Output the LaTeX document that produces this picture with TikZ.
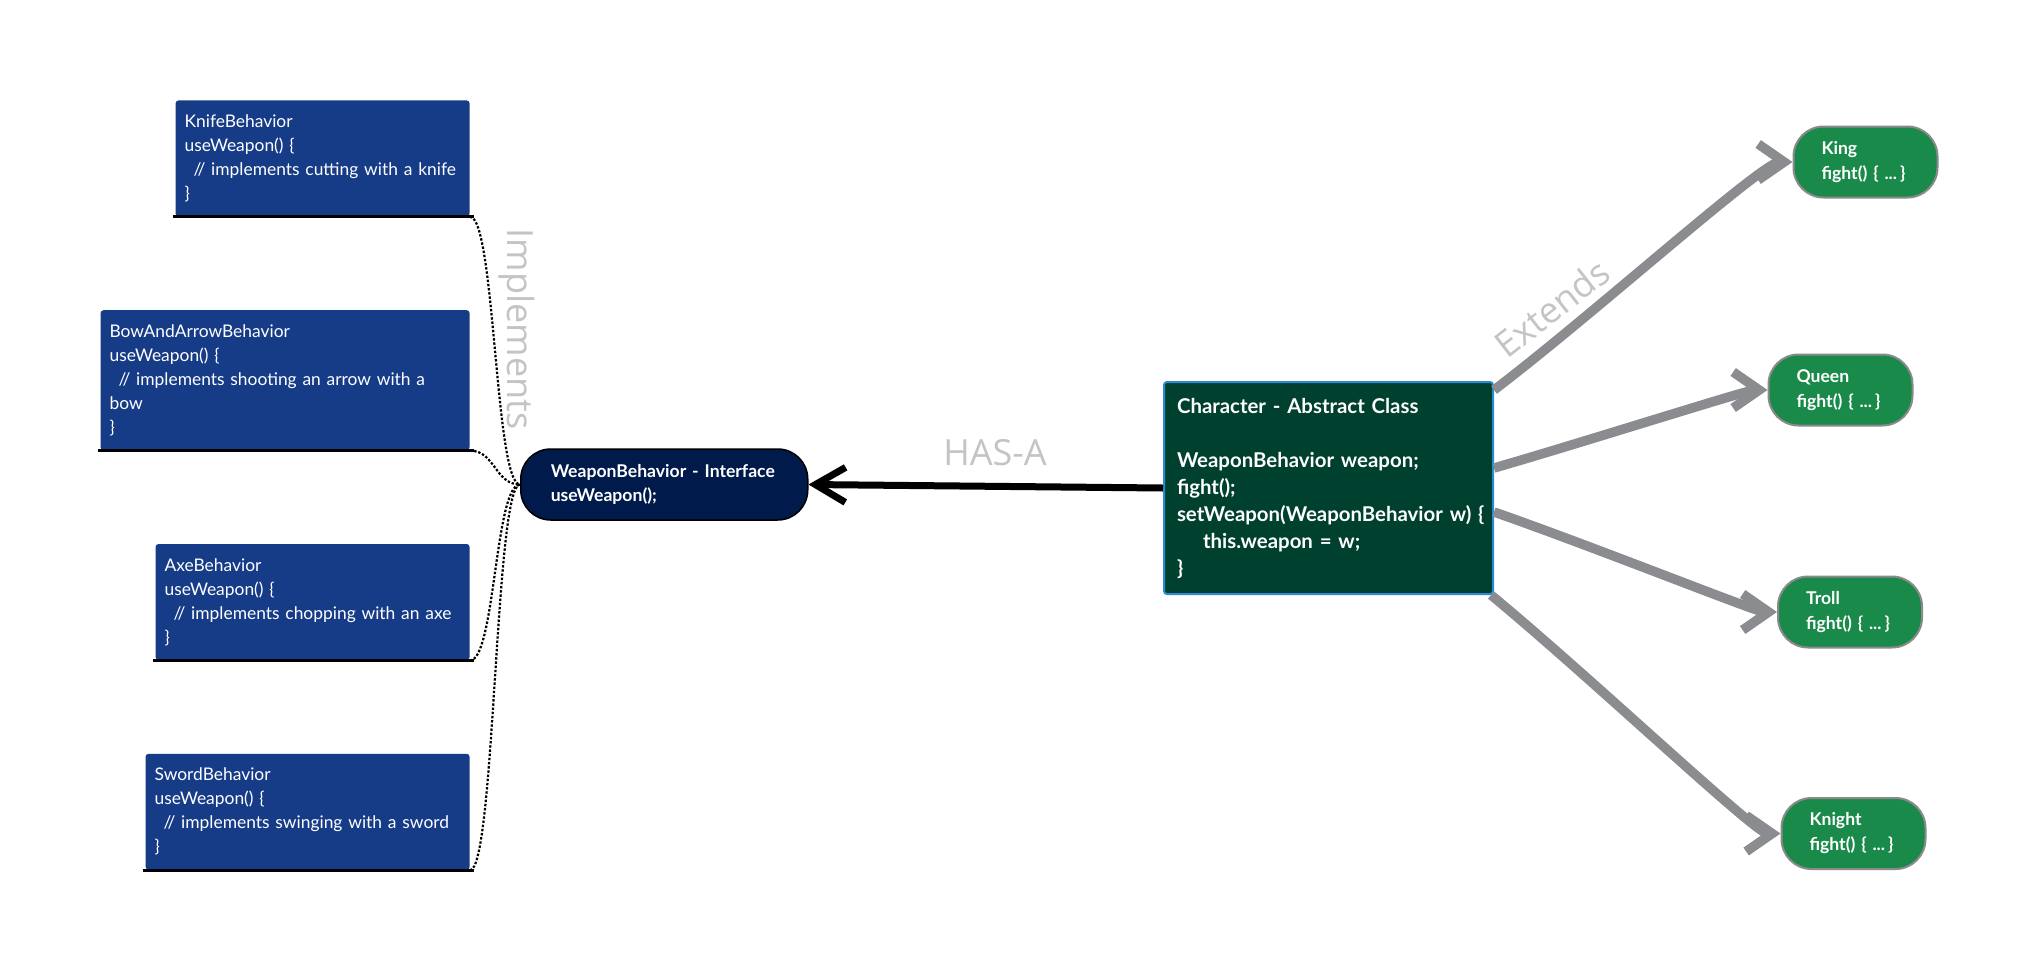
\documentclass[tikz,border=0pt]{standalone}
\usepackage{fontspec}
\setmainfont{Lato}
\newfontfamily\labelfont{Open Sans}
\usetikzlibrary{positioning,calc,arrows.meta}

\definecolor{behaviorBlue}{HTML}{173C87}
\definecolor{ifaceNavy}{HTML}{001B4B}
\definecolor{classGreen}{HTML}{00402F}
\definecolor{classBorder}{HTML}{2A8BD0}
\definecolor{heroGreen}{HTML}{1A8A4B}
\definecolor{heroBorder}{HTML}{8A8A8A}
\definecolor{extendsGray}{HTML}{8B8C90}
\definecolor{labelGray}{HTML}{C4C4C4}

\begin{document}
\begin{tikzpicture}[x=0.5pt, y=-0.5pt, >=latex]

    \useasboundingbox (0,0) rectangle (2041,970);
    \fill[white] (0,0) rectangle (2041,970);

    %
    % Styles for boxes, and connectors
    %
    \tikzstyle{behavior} = [rectangle, rounded corners=1.5pt, fill=behaviorBlue, text=white, align=left,
                            inner xsep=4.5pt, inner ysep=0pt, font={\fontsize{8.7}{12}\selectfont}]
    \tikzstyle{interface} = [draw=black, line width=0.75pt, rounded corners=15pt, fill=ifaceNavy, text=white,
                             align=left, minimum width=143.5pt, minimum height=35.5pt, text width=113.5pt,
                             inner xsep=15pt, font={\bfseries\fontsize{8.8}{12}\selectfont}]
    \tikzstyle{abstractClass} = [draw=classBorder, line width=1pt, rounded corners=1.5pt, fill=classGreen, text=white,
                                 align=left, minimum width=164.5pt, minimum height=106pt, text width=151.5pt,
                                 inner xsep=6.5pt, font={\bfseries\fontsize{10.2}{13.5}\selectfont}]
    \tikzstyle{subClass} = [draw=heroBorder, line width=1pt, rounded corners=15pt, fill=heroGreen, text=white,
                            align=left, minimum height=35.5pt, text width=44pt, inner xsep=14pt,
                            font={\bfseries\fontsize{8.8}{12.5}\selectfont}]
    \tikzstyle{underline} = [black, line width=1.5pt, shorten <=-1pt, shorten >=-2pt];
    \tikzstyle{implementsFlow} = [black, line width=1.1pt, dash pattern=on 1.2pt off 0.9pt];
    \tikzstyle{hasAFlow} = [black, line width=3.5pt, -{Straight Barb[length=15pt, width=17.5pt]}];
    \tikzstyle{extendsFlow} = [extendsGray, line width=4.75pt, -{Straight Barb[length=13pt, width=18pt]}];
    \tikzstyle{relationLabel} = [text=labelGray, font={\labelfont\fontsize{18}{20}\selectfont}];

    %
    % Position behaviors
    %
    \node[behavior, name=knife, anchor=north east, minimum width=147pt, text width=138pt, minimum height=58pt]
      at (470,100)
      {KnifeBehavior\\useWeapon() \{\\\hspace*{4.5pt}\mbox{// implements cutting with a knife}\\\}};
    \node[behavior, name=bow, below=46.5pt of knife.south east, anchor=north east, minimum width=184.5pt,
          text width=175.5pt, minimum height=70pt]
      {BowAndArrowBehavior\\useWeapon() \{\\\hspace*{4.5pt}\mbox{// implements shooting an arrow with a}\\bow\\\}};
    \node[behavior, name=axe, below=46.5pt of bow.south east, anchor=north east, minimum width=157pt,
          text width=148pt, minimum height=58pt]
      {AxeBehavior\\useWeapon() \{\\\hspace*{4.5pt}\mbox{// implements chopping with an axe}\\\}};
    \node[behavior, name=sword, below=46.5pt of axe.south east, anchor=north east, minimum width=162pt,
          text width=153pt, minimum height=58pt]
      {SwordBehavior\\useWeapon() \{\\\hspace*{4.5pt}\mbox{// implements swinging with a sword}\\\}};

    \draw[underline] (knife.south west) -- (knife.south east);
    \draw[underline] (bow.south west) -- (bow.south east);
    \draw[underline] (axe.south west) -- (axe.south east);
    \draw[underline] (sword.south west) -- (sword.south east);

    %
    % Position interface, class and characters
    %
    \node[interface, name=weapon, anchor=west] at (520,484.5)
      {\mbox{WeaponBehavior - Interface}\\useWeapon();};
    \node[abstractClass, name=character] at (1328.5,488)
      {Character - Abstract Class\\[13.5pt]
       WeaponBehavior weapon;\\
       fight();\\
       \mbox{setWeapon(WeaponBehavior w) \{}\\
       \hspace*{13pt}this.weapon = w;\\
       \}};

    \node[subClass, name=king] at (1865.5,162) {King\\\mbox{fight() \{ ...\,\}}};
    \node[subClass, name=queen] at (1840.5,390) {Queen\\\mbox{fight() \{ ...\,\}}};
    \node[subClass, name=troll] at (1850,612) {Troll\\\mbox{fight() \{ ...\,\}}};
    \node[subClass, name=knight] at (1853.5,833.5) {Knight\\\mbox{fight() \{ ...\,\}}};

    %
    % Connect via edges
    %
    \draw[implementsFlow] (knife.south east) .. controls +(25,0) and +(-25,0) .. (weapon.west);
    \draw[implementsFlow] (bow.south east) .. controls +(25,0) and +(-25,0) .. (weapon.west);
    \draw[implementsFlow] (axe.south east) .. controls +(25,0) and +(-25,0) .. (weapon.west);
    \draw[implementsFlow] (sword.south east) .. controls +(25,0) and +(-25,0) .. (weapon.west);

    \draw[hasAFlow] (character.west) -- (weapon.east);

    \draw[extendsFlow] ($(character.east)+(0,-98)$) .. controls +(100,-76) and +(-30,0) .. (king.west);
    \draw[extendsFlow] ($(character.east)+(0,-20)$) .. controls +(90,-26) and +(-20,0) .. (queen.west);
    \draw[extendsFlow] ($(character.east)+(0,24)$) .. controls +(95,33) and +(-20,0) .. (troll.west);
    \draw[extendsFlow] ($(character.south east)+(-3,0)$) .. controls +(97,80) and +(-25,0) .. (knight.west);

    %
    % Relation labels
    %
    \node[relationLabel, name=implementsText, rotate=-90] at (517,329) {Implements};
    \node[relationLabel, name=hasAText] at (995,453) {HAS-A};
    \node[relationLabel, name=extendsText, rotate=38] at (1552,308) {Extends};
  \end{tikzpicture}
\end{document}
